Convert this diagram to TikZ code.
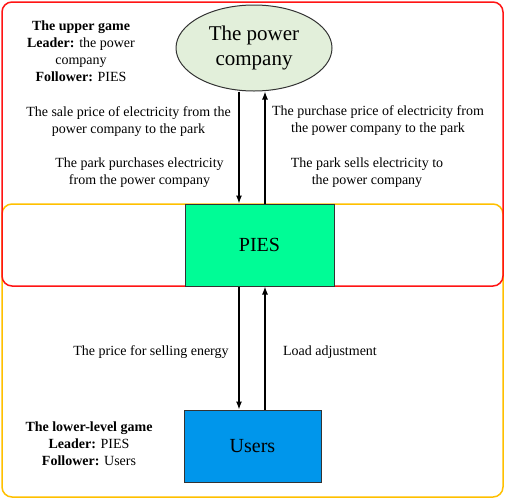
\documentclass[tikz,border=0pt]{standalone}
\usepackage{fontspec}
\setmainfont{Liberation Serif}
\usetikzlibrary{shapes.geometric,arrows.meta}
\definecolor{frred}{RGB}{255,20,20}
\definecolor{frorange}{RGB}{255,192,0}
\definecolor{ellfill}{RGB}{226,239,218}
\definecolor{piesfill}{RGB}{0,252,150}
\definecolor{userfill}{RGB}{0,150,235}
\tikzset{
  lbl/.style={align=center,font=\fontsize{14}{17}\selectfont,inner sep=0pt},
  bigtxt/.style={font=\fontsize{21}{25}\selectfont},
  boxstyle/.style={draw=black!80,line width=1pt,inner sep=0pt},
  flow/.style={line width=1.2pt,-{Latex[length=8pt,width=6pt]}},
  frame/.style={line width=1.5pt,rounded corners=10pt}
}
\begin{document}
\begin{tikzpicture}[x=1pt,y=-1pt]
\useasboundingbox (0,0) rectangle (505,499);
% frames
\draw[frame,draw=frorange] (2,204) rectangle (503,497);
\draw[frame,draw=frred] (2,2) rectangle (503,286);
% main nodes
\node[boxstyle,ellipse,fill=ellfill,minimum width=156pt,minimum height=86pt,align=center,bigtxt] (pc) at (254,48) {The power\\company};
\node[boxstyle,fill=piesfill,minimum width=149pt,minimum height=82pt,font=\fontsize{20}{24}\selectfont] (pies) at (259.5,245) {PIES};
\node[boxstyle,fill=userfill,minimum width=137pt,minimum height=72pt,font=\fontsize{20}{24}\selectfont] (users) at (252.5,446) {Users};
% arrow x positions
\coordinate (dn) at (239,0);
\coordinate (up) at (265,0);
\draw[flow] (pc.south -| dn) -- (pies.north -| dn);
\draw[flow] (pies.north -| up) -- (pc.south -| up);
\draw[flow] (pies.south -| dn) -- (users.north -| dn);
\draw[flow] (users.north -| up) -- (pies.south -| up);
% labels
\node[lbl] (upg) at (81,51) {\textbf{The upper game}\\\textbf{Leader:} the power\\company\\\textbf{Follower:} PIES};
\node[lbl] (l1) at (128.5,122) {The sale price of electricity from the\\power company to the park};
\node[lbl] (l2) at (139.5,173) {The park purchases electricity\\from the power company};
\node[lbl] (r1) at (378,120.5) {The purchase price of electricity from\\the power company to the park};
\node[lbl] (r2) at (367,173) {The park sells electricity to\\the power company};
\node[lbl] (l3) at (151,352) {The price for selling energy};
\node[lbl] (r3) at (330,352) {Load adjustment};
\node[lbl] (lowg) at (89,444) {\textbf{The lower-level game}\\\textbf{Leader:} PIES\\\textbf{Follower:} Users};
\end{tikzpicture}
\end{document}
